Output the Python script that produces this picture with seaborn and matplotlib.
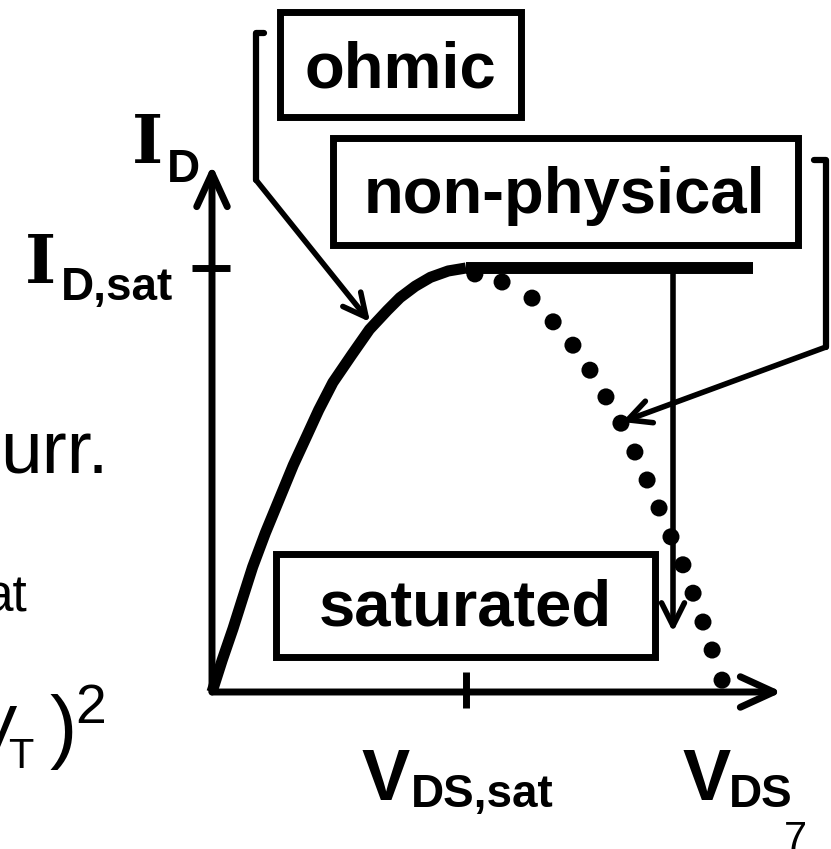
import numpy as np
import pandas as pd
import seaborn as sns
import matplotlib.pyplot as plt
from matplotlib.patches import Rectangle

# Curva I_D x V_DS normalizada (V_DS,sat = 1, I_D,sat = 1)
v_ohmic = [0.0, 0.04, 0.083, 0.12, 0.16, 0.21, 0.265, 0.32, 0.374, 0.42, 0.476,
           0.55, 0.62, 0.69, 0.74, 0.80, 0.86, 0.93, 1.0]
i_ohmic = [0.0, 0.075, 0.15, 0.22, 0.295, 0.375, 0.455, 0.535, 0.605, 0.665, 0.73,
           0.795, 0.855, 0.90, 0.93, 0.957, 0.978, 0.993, 1.0]

# ramo "não físico" (pontilhado) depois de V_DS,sat
v_nonphys = [1.035, 1.142, 1.260, 1.343, 1.421, 1.488, 1.551, 1.610, 1.665,
             1.713, 1.760, 1.807, 1.854, 1.894, 1.933, 1.969, 2.008]
i_nonphys = [0.986, 0.967, 0.929, 0.873, 0.818, 0.759, 0.696, 0.634, 0.566,
             0.500, 0.434, 0.366, 0.300, 0.233, 0.165, 0.099, 0.028]

# corrente saturada (linha horizontal)
v_saturated = [1.0, 2.13]
i_saturated = [1.0, 1.0]

vds_sat = 1.0
id_sat = 1.0
v_axis_end = 2.244
i_axis_end = 1.243

box_labels = ["ohmic", "non-physical", "saturated"]

sns.set_theme(style="white")
plt.rcParams["font.family"] = ["Liberation Sans", "DejaVu Sans"]
plt.rcParams["text.color"] = "black"

W, H = 831, 849
X0, Y0, SX, SY = 212, 692, 254, 424


def d(px, py):
    # pixel da figura -> coordenadas dos dados
    return (px - X0) / SX, (Y0 - py) / SY


fig = plt.figure(figsize=(W / 100, H / 100), dpi=100)
ax = fig.add_axes([0, 0, 1, 1])
ax.set_xlim(d(0, 0)[0], d(W, 0)[0])
ax.set_ylim(d(0, H)[1], d(0, 0)[1])
ax.axis("off")

# eixos com seta
axis_arrow = dict(arrowstyle="->,head_length=1.2,head_width=0.55", lw=5, color="black",
                  shrinkA=0, shrinkB=0, mutation_scale=20)
ax.annotate("", xy=(v_axis_end, 0), xytext=(0, 0), arrowprops=axis_arrow)
ax.annotate("", xy=(0, i_axis_end), xytext=(0, 0), arrowprops=axis_arrow)

# marcas de V_DS,sat e I_D,sat
ax.plot([vds_sat, vds_sat], [d(0, 672)[1], d(0, 708)[1]], color="black", lw=5, solid_capstyle="butt")
ax.plot([d(192, 0)[0], d(230, 0)[0]], [id_sat, id_sat], color="black", lw=5, solid_capstyle="butt")

# curvas
sns.lineplot(x=v_ohmic, y=i_ohmic, ax=ax, color="black", lw=8, solid_capstyle="butt")
sns.lineplot(x=v_saturated, y=i_saturated, ax=ax, color="black", lw=8.6, solid_capstyle="butt")
sns.scatterplot(x=v_nonphys, y=i_nonphys, ax=ax, color="black", s=150, edgecolor="none")

# seta vertical fina (saturado)
thin_arrow = dict(arrowstyle="->,head_length=1.1,head_width=0.55", lw=4, color="black",
                  shrinkA=0, shrinkB=0, mutation_scale=15)
ax.annotate("", xy=d(673, 632), xytext=d(673, 268), arrowprops=thin_arrow)

# caixas de texto
boxes = [(280, 12, 521, 117), (333, 138, 798, 245), (276, 554, 655, 657)]
text_pos = [(400, 88), (565, 213), (465, 625)]
for (x1, y1, x2, y2), (tx, ty), lab in zip(boxes, text_pos, box_labels):
    (a, b), (c, e) = d(x1, y2), d(x2, y1)
    ax.add_patch(Rectangle((a, b), c - a, e - b, fill=False, lw=5, edgecolor="black"))
    ax.text(*d(tx, ty), lab, ha="center", va="baseline", fontsize=47, fontweight="bold")

# colchetes com seta para a curva
ax.plot([d(264, 0)[0], d(256, 0)[0], d(256, 0)[0]],
        [d(0, 33)[1], d(0, 33)[1], d(0, 180)[1]], color="black", lw=4.5)
ax.annotate("", xy=d(370, 322), xytext=d(256, 180), arrowprops=thin_arrow)
ax.plot([d(814, 0)[0], d(826, 0)[0], d(826, 0)[0]],
        [d(0, 160)[1], d(0, 160)[1], d(0, 347)[1]], color="black", lw=4.5)
ax.annotate("", xy=d(622, 422), xytext=d(826, 347), arrowprops=thin_arrow)

# rótulos dos eixos
ax.text(*d(147, 163), "I", ha="center", va="baseline", fontsize=48, fontweight="bold",
        family="DejaVu Serif")
ax.text(*d(167, 182), "D", ha="left", va="baseline", fontsize=33, fontweight="bold")
ax.text(*d(40, 283), "I", ha="center", va="baseline", fontsize=48, fontweight="bold",
        family="DejaVu Serif")
ax.text(*d(61, 300), "D,sat", ha="left", va="baseline", fontsize=33, fontweight="bold")
ax.text(*d(386, 800), "V", ha="center", va="baseline", fontsize=52, fontweight="bold")
ax.text(*d(411, 807), "DS,sat", ha="left", va="baseline", fontsize=33, fontweight="bold")
ax.text(*d(707, 800), "V", ha="center", va="baseline", fontsize=52, fontweight="bold")
ax.text(*d(729, 807), "DS", ha="left", va="baseline", fontsize=33, fontweight="bold")
ax.text(*d(795, 851), "7", ha="center", va="baseline", fontsize=30)

# pedaços de texto do slide cortados à esquerda
ax.text(*d(0, 473), "urr.", ha="left", va="baseline", fontsize=54)
ax.text(*d(-15, 612), "at", ha="left", va="baseline", fontsize=37)
ax.text(*d(17, 753), "V", ha="right", va="baseline", fontsize=50)
ax.text(*d(8, 768), "T", ha="left", va="baseline", fontsize=30)
ax.text(*d(50, 753), ")", ha="left", va="baseline", fontsize=59)
ax.text(*d(75, 723), "2", ha="left", va="baseline", fontsize=40)

fig.savefig("out.png", dpi=100)
